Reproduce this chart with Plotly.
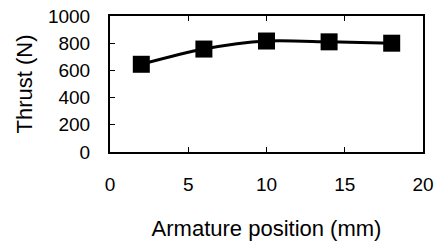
import plotly.graph_objects as go

positions = [2, 6, 10, 14, 18]
thrust = [645, 757, 816, 810, 800]
x_ticks = [0, 5, 10, 15, 20]
y_ticks = [0, 200, 400, 600, 800, 1000]

fig = go.Figure()
fig.add_trace(go.Scatter(
    x=positions, y=thrust, mode="lines+markers",
    line=dict(color="black", width=3, shape="spline", smoothing=0.8),
    marker=dict(symbol="square", size=17, color="black"),
    showlegend=False,
))

fam = "Liberation Sans, Arial, sans-serif"
tick_font = dict(family=fam, size=19, color="black")
fig.update_layout(
    width=438, height=243,
    margin=dict(l=110, r=15, t=16, b=91),
    paper_bgcolor="white", plot_bgcolor="white",
    font=dict(family=fam, size=18, color="black"),
    xaxis=dict(range=[0, 20], tickvals=x_ticks, ticks="inside", ticklen=5,
               tickwidth=1, tickcolor="black", tickfont=tick_font,
               showline=True, linecolor="black", linewidth=2,
               mirror="ticks", showgrid=False, zeroline=False, automargin=False,
               ticklabelstandoff=14, ticklabeloverflow="allow",
               title=dict(text="Armature position (mm)", standoff=27)),
    yaxis=dict(range=[0, 1000], tickvals=y_ticks, ticks="inside", ticklen=5,
               tickwidth=1, tickcolor="black", tickfont=tick_font,
               showline=True, linecolor="black", linewidth=2,
               mirror=True, showgrid=False, zeroline=False, automargin=False,
               ticklabelstandoff=14, ticklabeloverflow="allow",
               title=dict(text="Thrust (N)", standoff=9)),
)
fig.write_html("out.html", config={"displayModeBar": False},
               post_script="document.body.style.margin='0px';")
